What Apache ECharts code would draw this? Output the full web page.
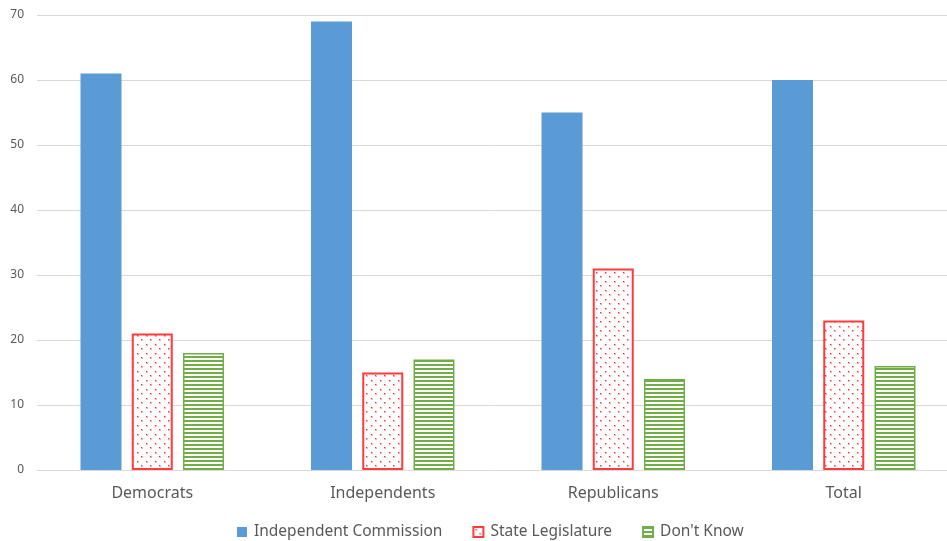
<!DOCTYPE html>
<html>
<head>
<meta charset="utf-8">
<script src="https://cdn.jsdelivr.net/npm/echarts@6/dist/echarts.min.js"></script>
<style>
  html, body { margin: 0; padding: 0; background: #fff; }
  #chart { width: 947px; height: 541px; }
</style>
</head>
<body>
<div id="chart"></div>
<script>
const categories = ['Democrats', 'Independents', 'Republicans', 'Total'];
const seriesNames = ['Independent Commission', 'State Legislature', "Don't Know"];
const commission = [61, 69, 55, 60];
const legislature = [21, 15, 31, 23];
const dontKnow = [18, 17, 14, 16];
const yTicks = [0, 10, 20, 30, 40, 50, 60, 70];

// red dot fill for the legislature bars
function dotPattern() {
  const c = document.createElement('canvas');
  c.width = 9; c.height = 9;
  const g = c.getContext('2d');
  g.fillStyle = '#ffffff';
  g.fillRect(0, 0, 9, 9);
  g.fillStyle = '#ffb0b0';
  g.fillRect(2, 2, 2, 2);
  g.fillRect(6, 6, 2, 2);
  g.fillStyle = '#ff2a2a';
  g.fillRect(2, 2, 1, 1);
  g.fillRect(6, 6, 1, 1);
  return c;
}
// green horizontal stripes for the "don't know" bars
function stripePattern() {
  const c = document.createElement('canvas');
  c.width = 4; c.height = 4;
  const g = c.getContext('2d');
  g.fillStyle = '#ffffff';
  g.fillRect(0, 0, 4, 4);
  g.fillStyle = '#70ad47';
  g.fillRect(0, 0, 4, 2);
  return c;
}

const chart = echarts.init(document.getElementById('chart'), null, { renderer: 'canvas' });
const textColor = '#595959';
const font = 'Noto Sans, Open Sans, sans-serif';

chart.setOption({
  animation: false,
  backgroundColor: '#ffffff',
  grid: { left: 37, width: 922, top: 15, bottom: 71, outerBoundsMode: 'none', containLabel: false },
  legend: {
    top: 519,
    left: 232,
    icon: 'rect',
    itemWidth: 10,
    itemHeight: 10,
    itemGap: 30,
    textStyle: { color: textColor, fontSize: 15.5, fontFamily: font, padding: [0, 0, 0, 2] },
    data: seriesNames
  },
  xAxis: {
    type: 'category',
    data: categories,
    axisLine: { lineStyle: { color: '#d9d9d9', width: 1 } },
    axisTick: { show: false },
    axisLabel: { color: textColor, fontSize: 16, fontFamily: font, margin: 15 }
  },
  yAxis: {
    type: 'value',
    min: yTicks[0],
    max: yTicks[yTicks.length - 1],
    interval: 10,
    axisLine: { show: false },
    axisTick: { show: false },
    splitLine: { lineStyle: { color: '#d9d9d9', width: 1 } },
    axisLabel: { color: textColor, fontSize: 12, fontFamily: font, margin: 13 }
  },
  series: [
    {
      name: seriesNames[0],
      type: 'bar',
      data: commission,
      barWidth: 41,
      barGap: '25%',
      itemStyle: { color: '#5b9bd5' }
    },
    {
      name: seriesNames[1],
      type: 'bar',
      data: legislature,
      barWidth: 41,
      barGap: '25%',
      itemStyle: {
        color: { image: dotPattern(), repeat: 'repeat' },
        borderColor: '#ff3b3b',
        borderWidth: 2
      }
    },
    {
      name: seriesNames[2],
      type: 'bar',
      data: dontKnow,
      barWidth: 41,
      barGap: '25%',
      itemStyle: {
        color: { image: stripePattern(), repeat: 'repeat' },
        borderColor: '#70ad47',
        borderWidth: 1.5
      }
    }
  ]
});
</script>
</body>
</html>
